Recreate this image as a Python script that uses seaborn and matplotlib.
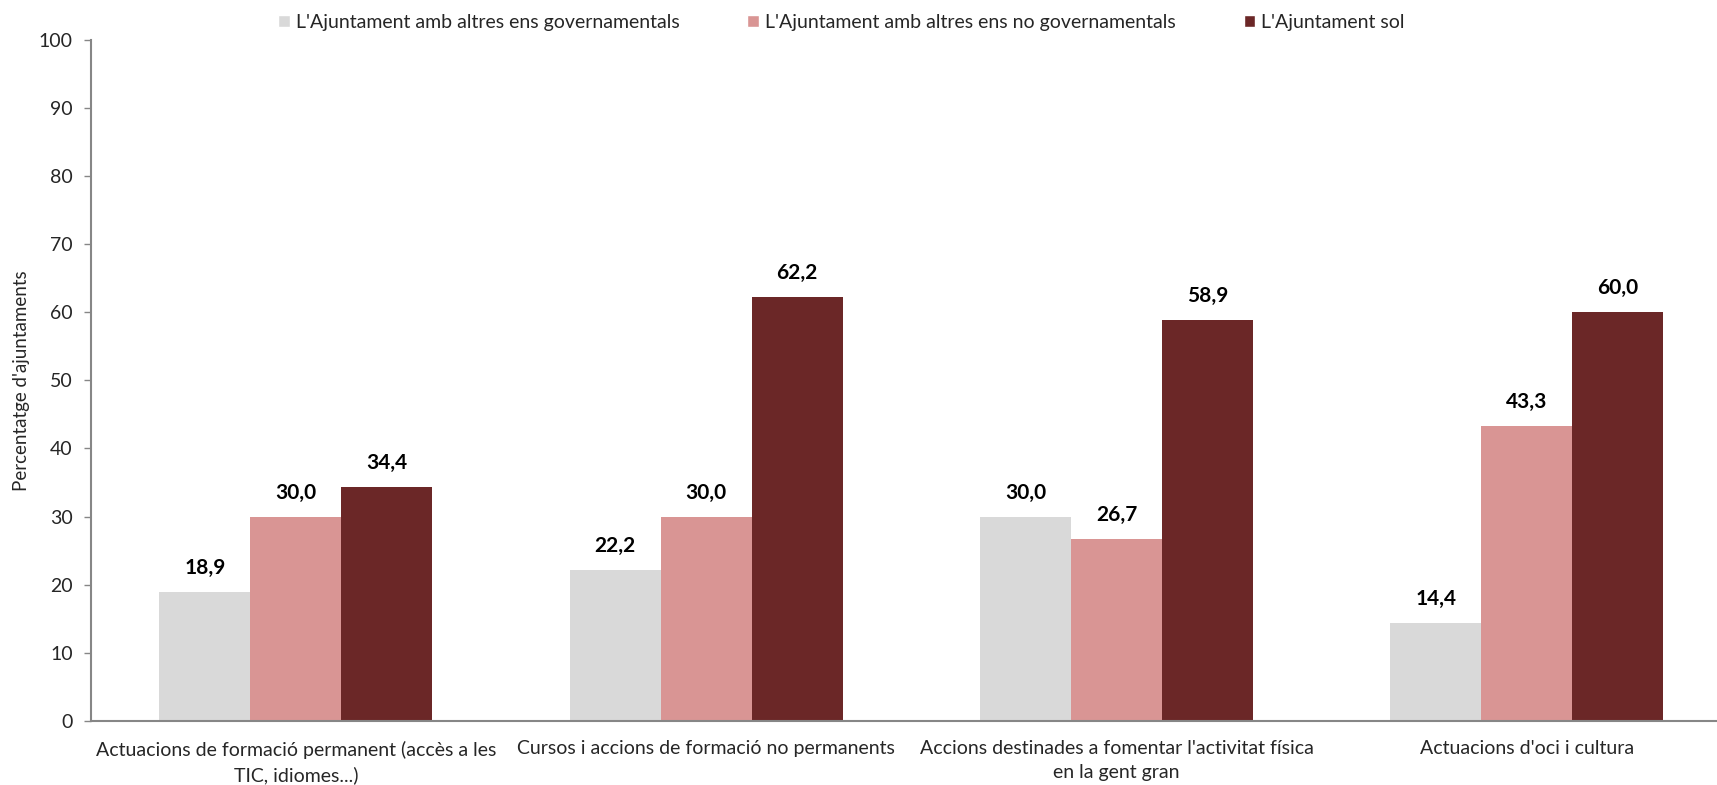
import pandas as pd
import seaborn as sns
import matplotlib.pyplot as plt

# Data
categories = [
    "Actuacions de formació permanent (accès a les\nTIC, idiomes...)",
    "Cursos i accions de formació no permanents",
    "Accions destinades a fomentar l'activitat física\nen la gent gran",
    "Actuacions d'oci i cultura",
]
series = [
    "L'Ajuntament amb altres ens governamentals",
    "L'Ajuntament amb altres ens no governamentals",
    "L'Ajuntament sol",
]
governamentals = [18.9, 22.2, 30.0, 14.4]
no_governamentals = [30.0, 30.0, 26.7, 43.3]
sol = [34.4, 62.2, 58.9, 60.0]
yticks = list(range(0, 101, 10))

colors = ["#D9D9D9", "#D99594", "#6B2727"]

rows = []
for name, vals in zip(series, [governamentals, no_governamentals, sol]):
    for cat, v in zip(categories, vals):
        rows.append({"Categoria": cat, "Serie": name, "Valor": v})
df = pd.DataFrame(rows)

# Style
sns.set_theme(style="white")
plt.rcParams["font.family"] = ["Lato", "DejaVu Sans"]

fig = plt.figure(figsize=(17.17, 7.85), dpi=100)
# the plot area runs past the right edge of the figure, like the original
ax = fig.add_axes([0.0528, 0.0815, 0.956, 0.868])

sns.barplot(data=df, x="Categoria", y="Valor", hue="Serie", palette=colors,
            width=0.665, gap=0, saturation=1, ax=ax, legend=True)

for container in ax.containers:
    for bar in container:
        bar.set_edgecolor("none")
    ax.bar_label(container, labels=[f"{b.get_height():.1f}".replace(".", ",") for b in container],
                 padding=10, fontsize=15, fontweight="bold", color="black")

ax.set_ylim(0, 100)
ax.set_yticks(yticks)
ax.set_xlim(-0.5, 3.5)
ax.set_xlabel("")
ax.set_ylabel("Percentatge d'ajuntaments", fontsize=13.5, labelpad=6)
ax.tick_params(axis="y", labelsize=14, length=5, width=1, color="#868686", direction="out", pad=8, left=True)
ax.tick_params(axis="x", labelsize=14, length=0, pad=14)
for lbl in ax.get_xticklabels():
    lbl.set_linespacing(1.5)

for side in ["top", "right"]:
    ax.spines[side].set_visible(False)
for side in ["left", "bottom"]:
    ax.spines[side].set_color("#868686")
    ax.spines[side].set_linewidth(1.5)

handles, labels = ax.get_legend_handles_labels()
ax.get_legend().remove()
fig.legend(handles, labels, loc="upper center", bbox_to_anchor=(0.49, 1.005), ncol=3,
           frameon=False, fontsize=14, handlelength=0.6, handleheight=0.6,
           handletextpad=0.3, columnspacing=3.5)

plt.savefig("out.png", dpi=100)
